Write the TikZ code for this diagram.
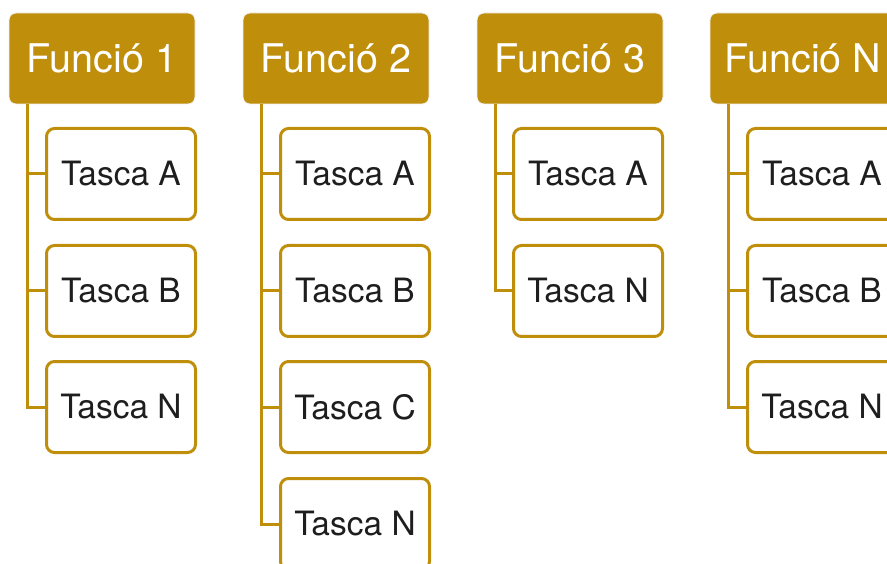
\documentclass[tikz,border=0pt]{standalone}
\usepackage{fontspec}
\setmainfont{TeX Gyre Heros}
\definecolor{gold}{HTML}{BF8F0C}
\definecolor{txt}{HTML}{1E1E1E}
\begin{document}
\begin{tikzpicture}[x=1pt,y=-1pt,
  hdr/.style={rectangle, rounded corners=7pt, fill=gold, draw=white!90!gray, line width=0.8pt,
    minimum width=186pt, minimum height=91pt, inner sep=0pt, text=white,
    font=\fontsize{39.5}{42}\selectfont},
  task/.style={rectangle, rounded corners=8pt, fill=white, draw=gold, line width=3pt,
    minimum width=149pt, minimum height=91pt, inner sep=0pt, text=txt,
    font=\fontsize{33.5}{36}\selectfont},
  conn/.style={draw=gold, line width=3pt}]
\useasboundingbox (0,0) rectangle (887,564);
\clip (0,0) rectangle (887,564);
% column 1
\node[hdr] (h1) at (102,58.5) {Funció 1};
\node[task] (t1a) at (121,174) {Tasca A};
\node[task] (t1b) at (121,291) {Tasca B};
\node[task] (t1n) at (121,407) {Tasca N};
\draw[conn] ([xshift=19pt]h1.south west) |- (t1n.west);
\draw[conn] ([xshift=19pt]h1.south west) |- (t1a.west);
\draw[conn] ([xshift=19pt]h1.south west) |- (t1b.west);
% column 2
\node[hdr] (h2) at (336,58.5) {Funció 2};
\node[task] (t2a) at (355,174) {Tasca A};
\node[task] (t2b) at (355,291) {Tasca B};
\node[task] (t2c) at (355,407) {Tasca C};
\node[task] (t2n) at (355,524) {Tasca N};
\draw[conn] ([xshift=19pt]h2.south west) |- (t2n.west);
\draw[conn] ([xshift=19pt]h2.south west) |- (t2a.west);
\draw[conn] ([xshift=19pt]h2.south west) |- (t2b.west);
\draw[conn] ([xshift=19pt]h2.south west) |- (t2c.west);
% column 3
\node[hdr] (h3) at (570,58.5) {Funció 3};
\node[task] (t3a) at (588,174) {Tasca A};
\node[task] (t3n) at (588,291) {Tasca N};
\draw[conn] ([xshift=19pt]h3.south west) |- (t3n.west);
\draw[conn] ([xshift=19pt]h3.south west) |- (t3a.west);
% column 4
\node[hdr] (h4) at (803,58.5) {Funció N};
\node[task] (t4a) at (822,174) {Tasca A};
\node[task] (t4b) at (822,291) {Tasca B};
\node[task] (t4n) at (822,407) {Tasca N};
\draw[conn] ([xshift=19pt]h4.south west) |- (t4n.west);
\draw[conn] ([xshift=19pt]h4.south west) |- (t4a.west);
\draw[conn] ([xshift=19pt]h4.south west) |- (t4b.west);
\end{tikzpicture}
\end{document}
